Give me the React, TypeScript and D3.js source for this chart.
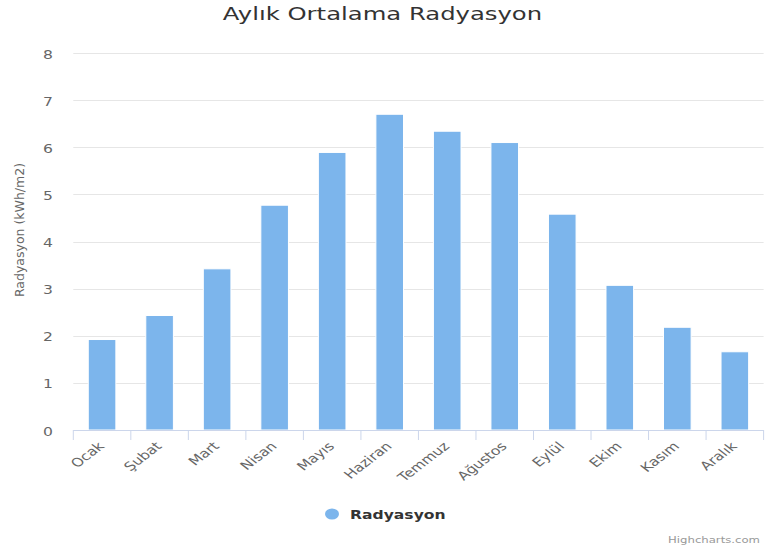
import React from 'react';
import * as d3 from 'd3';

const MONTHS = ['Ocak', 'Şubat', 'Mart', 'Nisan', 'Mayıs', 'Haziran', 'Temmuz', 'Ağustos', 'Eylül', 'Ekim', 'Kasım', 'Aralık'];
const RADIATION = [1.92, 2.43, 3.42, 4.77, 5.89, 6.70, 6.34, 6.10, 4.58, 3.07, 2.18, 1.66];
const Y_TICKS = [0, 1, 2, 3, 4, 5, 6, 7, 8];

const TITLE = 'Aylık Ortalama Radyasyon';
const Y_TITLE = 'Radyasyon (kWh/m2)';
const SERIES_NAME = 'Radyasyon';
const CREDIT = 'Highcharts.com';

const W = 765, H = 551;
const m = { t: 53, r: 1.4, b: 121, l: 73.3 };
// the reference is stretched sideways, so the text is too
const SX = 1.3;
const FONT = '"DejaVu Sans", "Lucida Grande", Arial, sans-serif';

export default function App() {
  const x = d3.scaleBand<string>().domain(MONTHS).range([m.l, W - m.r]).paddingInner(0.52).paddingOuter(0.26);
  const y = d3.scaleLinear().domain([0, 8]).range([H - m.b, m.t]);
  const step = x.step();
  const gap = (step - x.bandwidth()) / 2;
  const bounds = MONTHS.map(mo => x(mo)! - gap).concat([W - m.r]);
  const base = y(0);

  return (
    <svg width={W} height={H} style={{ position: 'absolute', left: 0, top: 0, background: '#fff' }} fontFamily={FONT}>
      <text transform={`translate(${W / 2},19.5) scale(1.35,1)`} textAnchor="middle" fontSize={18} fill="#333333">{TITLE}</text>

      {/* grid + y labels */}
      {Y_TICKS.map(t => (
        <g key={t}>
          {t > 0 && <line x1={m.l} x2={W - m.r} y1={Math.round(y(t)) + 0.5} y2={Math.round(y(t)) + 0.5} stroke="#e6e6e6" />}
          <text transform={`translate(53,${y(t) + 5.5}) scale(${SX},1)`} textAnchor="end" fontSize={12} fill="#666666">{t}</text>
        </g>
      ))}
      <text transform={`translate(24,230) rotate(-90)`} textAnchor="middle" fontSize={12.5} fill="#666666">{Y_TITLE}</text>

      {/* bars */}
      {MONTHS.map((mo, i) => (
        <rect key={mo} x={x(mo)} y={y(RADIATION[i])} width={x.bandwidth()} height={base - y(RADIATION[i])}
          fill="#7cb5ec" stroke="#ffffff" strokeWidth={1} />
      ))}

      {/* x axis */}
      <line x1={m.l} x2={W - m.r} y1={base + 0.5} y2={base + 0.5} stroke="#ccd6eb" />
      {bounds.map((b, i) => (
        <line key={i} x1={b} x2={b} y1={base} y2={base + 10} stroke="#ccd6eb" />
      ))}
      {MONTHS.map(mo => {
        const cx = x(mo)! + x.bandwidth() / 2;
        return (
          <text key={mo} transform={`translate(${cx + 3},447) scale(${SX},1) rotate(-45)`} textAnchor="end" fontSize={12} fill="#666666">{mo}</text>
        );
      })}

      {/* legend */}
      <ellipse cx={332} cy={514} rx={7} ry={5.5} fill="#7cb5ec" />
      <text transform={`translate(350,519) scale(${SX},1)`} fontSize={12} fontWeight="bold" fill="#333333">{SERIES_NAME}</text>

      <text transform={`translate(760,543) scale(${SX},1)`} textAnchor="end" fontSize={9} fill="#999999">{CREDIT}</text>
    </svg>
  );
}
